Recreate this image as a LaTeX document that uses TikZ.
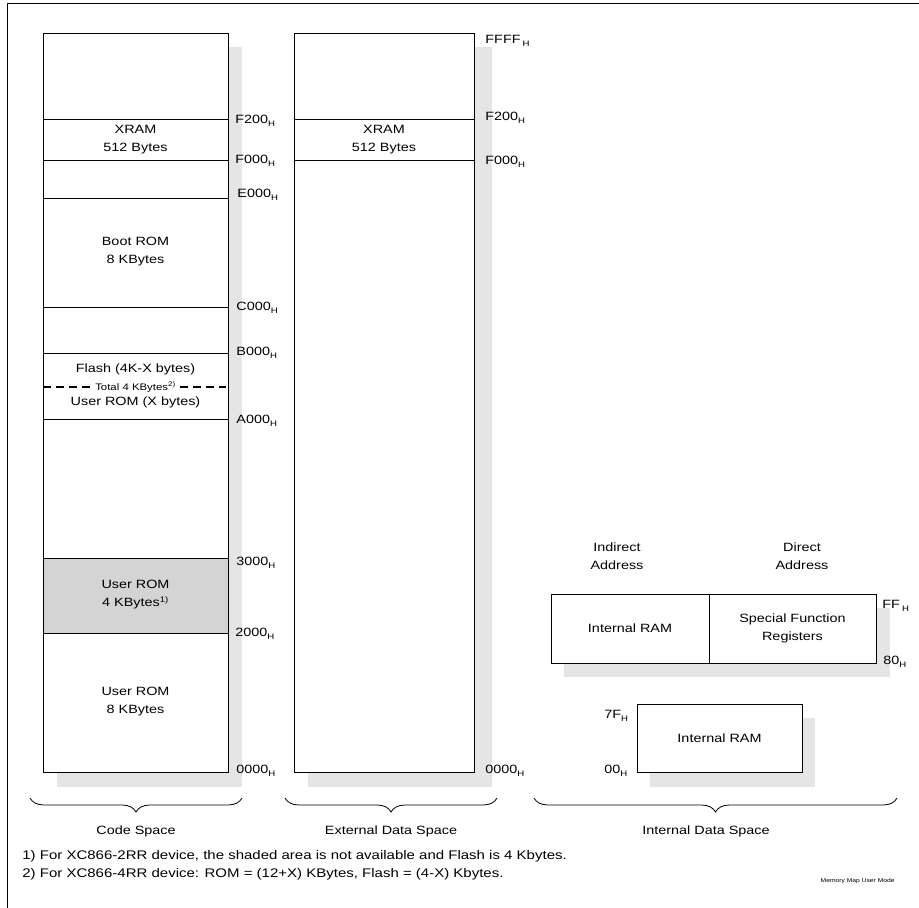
\documentclass[tikz,border=0pt]{standalone}
\usepackage{fontspec}
\setmainfont{Liberation Sans}[FakeStretch=1.2]
\usetikzlibrary{positioning}
\usetikzlibrary{decorations.pathreplacing}
\definecolor{shadowgray}{gray}{0.9}
\definecolor{romgray}{gray}{0.83}
\newcommand\hexaddr[1]{#1\raisebox{-0.55ex}{\fontsize{8}{8}\selectfont H}}

\begin{document}
\begin{tikzpicture}[x=1pt, y=-1pt, line width=0.8pt,
		every node/.style={font=\fontsize{12}{18}\selectfont, align=center},
		addr/.style={anchor=base west, inner sep=0pt},
		spacebrace/.style={decorate, decoration={brace, amplitude=14pt}}]
	\useasboundingbox (0,0) rectangle (919,908);
	\draw[line width=1pt] (7,908)--(7,3)--(919,3);
	% code space
	\fill[shadowgray] (57,47) rectangle (242,787);
	\filldraw[fill=white] (43,33) rectangle (228,772);
	\filldraw[fill=romgray] (43,558) rectangle (228,633);
	\foreach \y in {119,160,198,307,353,419}
		\draw (43,\y)--(228,\y);
	\node (cxram) at (135.5,140) {XRAM\\512 Bytes};
	\node (cboot) at (135.5,252) {Boot ROM\\8 KBytes};
	\node[fill=white, inner xsep=4pt, inner ysep=1pt, font=\fontsize{9.5}{10}\selectfont] (ctotal) at (135.5,387) {Total 4 KBytes\textsuperscript{2)}};
	\node (cflash) at (135.5,369) {Flash (4K-X bytes)};
	\node (cuser) at (135.5,402) {User ROM (X bytes)};
	\coordinate (cdashl) at (43,387);
	\coordinate (cdashr) at (226,387);
	\draw[dashed, line width=1.8pt, dash pattern=on 8pt off 5pt] (cdashl)--(ctotal.west) (ctotal.east)--(cdashr);
	\node (crom4) at (135.5,595) {User ROM\\4 KBytes\textsuperscript{1)}};
	\node (crom8) at (135.5,702) {User ROM\\8 KBytes};
	\node[addr] (cF200) at (235,123) {\hexaddr{F200}};
	\node[addr] (cF000) at (235,163) {\hexaddr{F000}};
	\node[addr] (cE000) at (237,197) {\hexaddr{E000}};
	\node[addr] (cC000) at (236,310) {\hexaddr{C000}};
	\node[addr] (cB000) at (236,355) {\hexaddr{B000}};
	\node[addr] (cA000) at (236,423) {\hexaddr{A000}};
	\node[addr] (c3000) at (236,565) {\hexaddr{3000}};
	\node[addr] (c2000) at (235,636) {\hexaddr{2000}};
	\node[addr] (c0000) at (236,773) {\hexaddr{0000}};
	% external data space
	\fill[shadowgray] (308,47) rectangle (492,787);
	\filldraw[fill=white] (294,33) rectangle (474,772);
	\foreach \y in {119,160}
		\draw (294,\y)--(474,\y);
	\node (exram) at (384,140) {XRAM\\512 Bytes};
	\node[addr] (eFFFF) at (485,43) {FFFF\,\raisebox{-0.55ex}{\fontsize{8}{8}\selectfont H}};
	\node[addr] (eF200) at (485,120) {\hexaddr{F200}};
	\node[addr] (eF000) at (485,164) {\hexaddr{F000}};
	\node[addr] (e0000) at (485,773) {\hexaddr{0000}};
	% internal data space
	\node (indirect) at (617,556) {Indirect\\Address};
	\node (direct) at (802,556) {Direct\\Address};
	\fill[shadowgray] (564,608) rectangle (890,677);
	\filldraw[fill=white] (551,594) rectangle (876,663);
	\draw (709,594)--(709,663);
	\node (iram) at (630,628.5) {Internal RAM};
	\node (isfr) at (792.5,628.5) {Special Function\\Registers};
	\node[addr] (iFF) at (882,608) {FF\,\raisebox{-0.55ex}{\fontsize{8}{8}\selectfont H}};
	\node[addr] (i80) at (883,664) {\hexaddr{80}};
	\fill[shadowgray] (650,718) rectangle (815,787);
	\filldraw[fill=white] (637,704) rectangle (802,772);
	\node (iramlow) at (719.5,738) {Internal RAM};
	\node[addr] (i7F) at (604,718) {\hexaddr{7F}};
	\node[addr] (i00) at (604,773) {\hexaddr{00}};
	% braces
	\draw[spacebrace] (242,798)--(30,798);
	\draw[spacebrace] (497,798)--(285,798);
	\draw[spacebrace] (897,798)--(534,798);
	\node (codelbl) at (136,831) {Code Space};
	\node (extlbl) at (391,831) {External Data Space};
	\node (intlbl) at (706,831) {Internal Data Space};
	% notes
	\node[anchor=base west, inner sep=0pt, font=\fontsize{12.5}{14}\selectfont] (note1) at (22,859) {1) For XC866-2RR device, the shaded area is not available and Flash is 4 Kbytes.};
	\node[anchor=base west, inner sep=0pt, font=\fontsize{12.5}{14}\selectfont] (note2) at (22,877) {2) For XC866-4RR device: ROM = (12+X) KBytes, Flash = (4-X) Kbytes.};
	\node[anchor=base east, inner sep=0pt, font=\fontsize{5.6}{7}\selectfont] (mapname) at (895,882) {Memory Map User Mode};
\end{tikzpicture}
\end{document}
